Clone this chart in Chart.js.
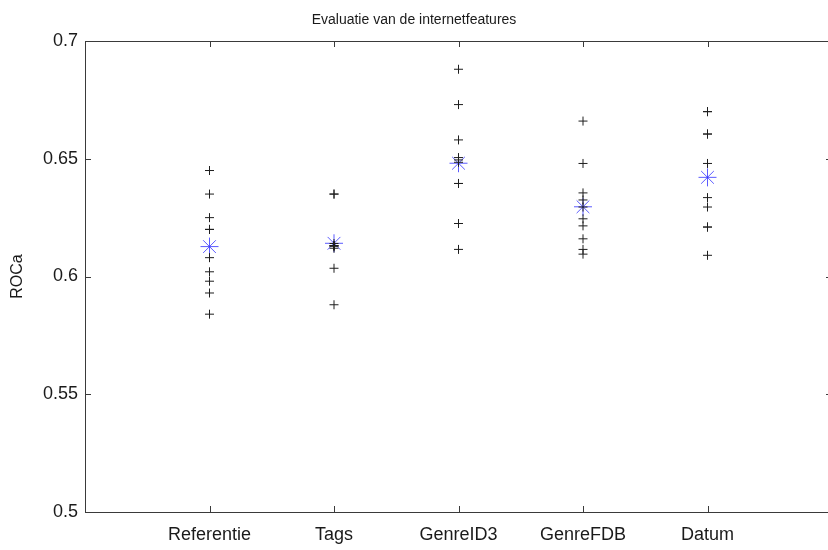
<!DOCTYPE html>
<html>
<head>
<meta charset="utf-8">
<script src="https://cdn.jsdelivr.net/npm/chart.js@4"></script>
<style>
  html, body { margin: 0; padding: 0; background: #fff; overflow: hidden; }
  #wrap { width: 844px; height: 550px; position: relative; }
</style>
</head>
<body>
<div id="wrap"><canvas id="rocchart"></canvas></div>
<script>
// feature sets on the x axis (positions 1..5)
const categories = ['Referentie', 'Tags', 'GenreID3', 'GenreFDB', 'Datum'];

// ROC area per fold, one list per feature set
const referentieScores = [0.645, 0.635, 0.625, 0.620, 0.620, 0.608, 0.602, 0.598, 0.593, 0.584];
const tagsScores = [0.635, 0.635, 0.614, 0.613, 0.613, 0.613, 0.612, 0.613, 0.6035, 0.588];
const genreID3Scores = [0.688, 0.673, 0.658, 0.6505, 0.6485, 0.6495, 0.6395, 0.6395, 0.6225, 0.6115];
const genreFDBScores = [0.666, 0.648, 0.6355, 0.6325, 0.6295, 0.6245, 0.6215, 0.616, 0.6115, 0.6095];
const datumScores = [0.670, 0.670, 0.6605, 0.6605, 0.648, 0.6335, 0.6295, 0.621, 0.621, 0.609];

// mean ROC area per feature set
const meanScores = [0.6127, 0.6141, 0.6481, 0.6296, 0.6421];

const yTicks = [0.5, 0.55, 0.6, 0.65, 0.7];

const allScores = [referentieScores, tagsScores, genreID3Scores, genreFDBScores, datumScores];

const foldPoints = [];
allScores.forEach((scores, i) => {
    scores.forEach(v => foldPoints.push({ x: i + 1, y: v }));
});
const meanPoints = meanScores.map((v, i) => ({ x: i + 1, y: v }));

const FONT = '"Liberation Sans", Arial, Helvetica, sans-serif';

// box around the axes with inward tick marks, plus title and y label
const matlabFrame = {
    id: 'matlabFrame',
    afterDraw(chart) {
        const { ctx, chartArea: a, scales } = chart;
        ctx.save();
        ctx.strokeStyle = '#3a3a3a';
        ctx.lineWidth = 1;
        ctx.strokeRect(a.left + 0.5, a.top + 0.5, a.right - a.left, a.bottom - a.top);

        ctx.beginPath();
        for (let i = 1; i <= categories.length; i++) {
            const px = Math.round(scales.x.getPixelForValue(i)) + 0.5;
            ctx.moveTo(px, a.bottom);
            ctx.lineTo(px, a.bottom - 6);
            ctx.moveTo(px, a.top);
            ctx.lineTo(px, a.top + 6);
        }
        yTicks.forEach(t => {
            const py = Math.round(scales.y.getPixelForValue(t)) + 0.5;
            ctx.moveTo(a.left, py);
            ctx.lineTo(a.left + 6, py);
            ctx.moveTo(a.right, py);
            ctx.lineTo(a.right - 6, py);
        });
        ctx.stroke();

        ctx.fillStyle = '#1a1a1a';
        ctx.font = '14px ' + FONT;
        ctx.textAlign = 'center';
        ctx.textBaseline = 'middle';
        ctx.fillText('Evaluatie van de internetfeatures', 414, 20);

        ctx.translate(18, (a.top + a.bottom) / 2);
        ctx.rotate(-Math.PI / 2);
        ctx.font = '16px ' + FONT;
        ctx.fillText('ROCa', 0, 0);
        ctx.restore();
    }
};

const ctx = document.getElementById('rocchart').getContext('2d');

const rocChart = new Chart(ctx, {
    type: 'scatter',
    data: {
        datasets: [{
            label: 'folds',
            data: foldPoints,
            pointStyle: 'cross',
            pointRadius: 4.5,
            pointBorderWidth: 1,
            borderColor: '#1e1e1e',
            backgroundColor: '#1e1e1e'
        }, {
            label: 'gemiddelde',
            data: meanPoints,
            pointStyle: 'star',
            pointRadius: 9,
            pointBorderWidth: 1,
            borderColor: 'rgba(50, 50, 255, 0.8)',
            backgroundColor: 'rgba(50, 50, 255, 0.8)'
        }]
    },
    options: {
        responsive: true,
        maintainAspectRatio: false,
        animation: false,
        events: [],
        layout: { padding: { left: 0, right: 2, top: 41, bottom: 0 } },
        plugins: {
            legend: { display: false },
            tooltip: { enabled: false }
        },
        scales: {
            x: {
                type: 'linear',
                min: 0,
                max: 6,
                afterFit: s => { s.height = 38; },
                afterBuildTicks: s => { s.ticks = [0, 1, 2, 3, 4, 5, 6].map(v => ({ value: v })); },
                grid: { display: false, drawTicks: false },
                border: { display: false },
                ticks: {
                    autoSkip: false,
                    maxRotation: 0,
                    padding: 12,
                    color: '#1a1a1a',
                    font: { family: FONT, size: 18 },
                    callback: v => categories[v - 1] || ''
                }
            },
            y: {
                min: 0.5,
                max: 0.7,
                afterFit: s => { s.width = 85; },
                afterBuildTicks: s => { s.ticks = yTicks.map(v => ({ value: v })); },
                grid: { display: false, drawTicks: false },
                border: { display: false },
                ticks: {
                    padding: 7,
                    color: '#1a1a1a',
                    font: { family: FONT, size: 18 },
                    callback: v => String(+v.toFixed(2))
                }
            }
        }
    },
    plugins: [matlabFrame]
});
</script>
</body>
</html>
